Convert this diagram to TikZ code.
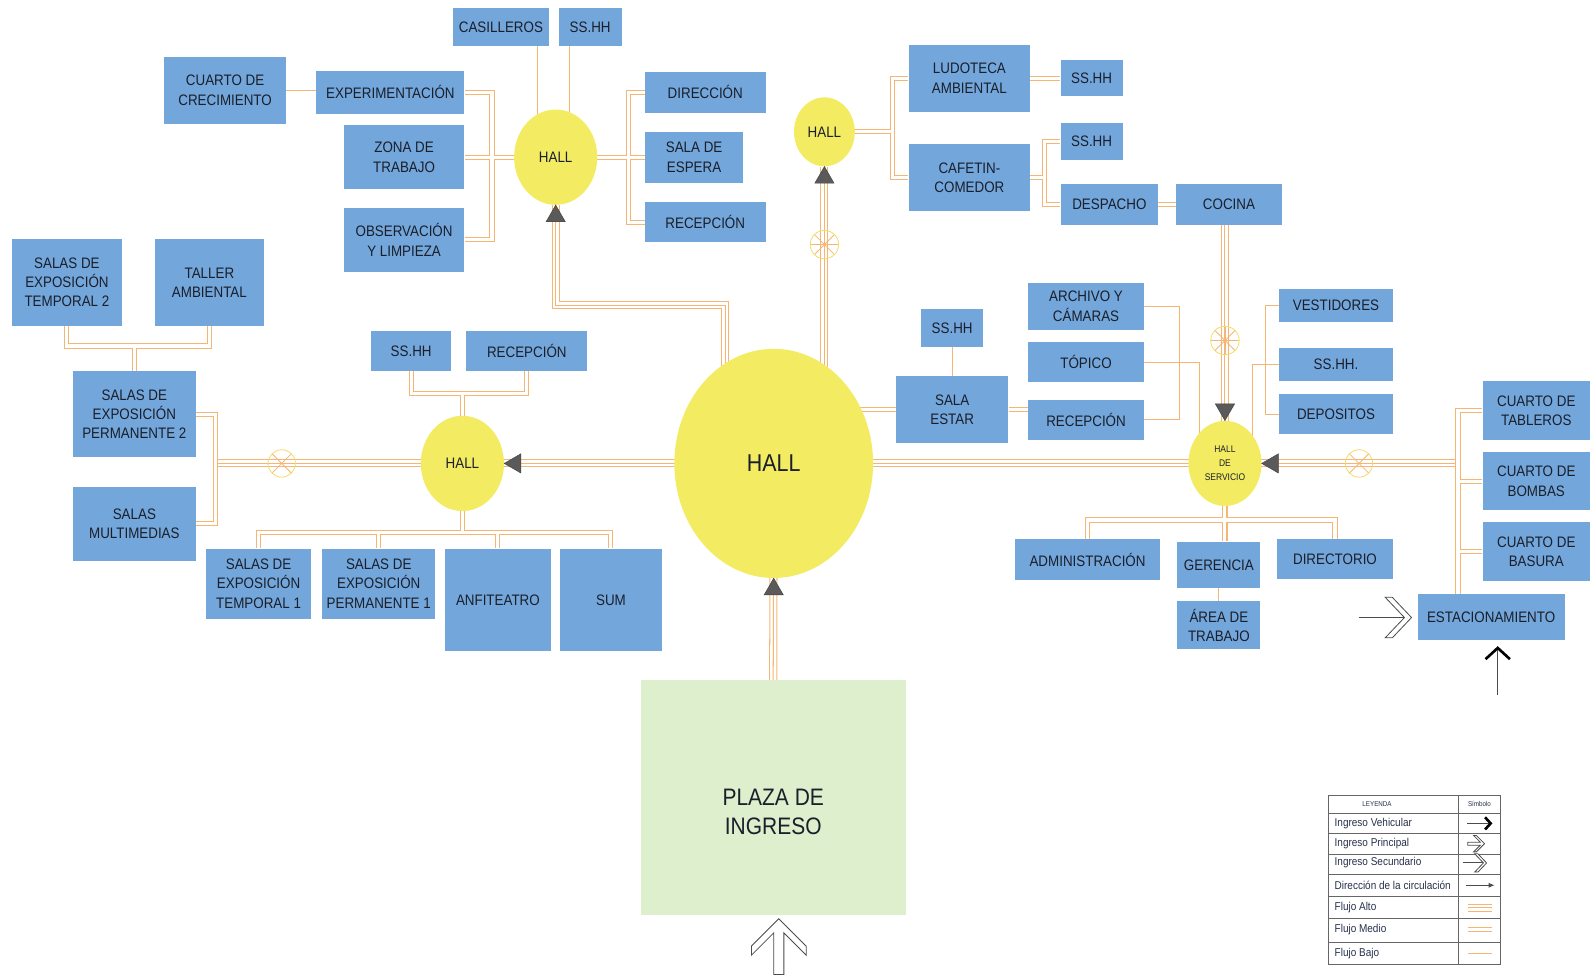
\documentclass[tikz,border=0pt]{standalone}
\usepackage{fontspec}
\setmainfont{Liberation Sans}[FakeStretch=0.88]
\usetikzlibrary{shapes.geometric, backgrounds, calc, arrows.meta}

\definecolor{azul}{HTML}{73A6DA}
\definecolor{amarillo}{HTML}{F3EC62}
\definecolor{amarilloc}{HTML}{F2DC6A}
\definecolor{verde}{HTML}{DDEFCC}
\definecolor{flujo}{HTML}{F7B574}
\definecolor{texto}{HTML}{1A1F2B}
\definecolor{textoley}{HTML}{26304A}
\definecolor{gris}{HTML}{5A5A5A}

\tikzset{
  sala/.style={fill=azul, text=texto, align=center, inner sep=0pt, font=\fontsize{15}{19}\selectfont},
  tam/.style 2 args={minimum width=#1pt, minimum height=#2pt},
  hall/.style={ellipse, fill=amarillo, text=texto, inner sep=0pt, align=center, font=\fontsize{15}{19}\selectfont},
  alto/.style={draw=flujo, line width=8pt, postaction={draw=white, line width=6pt}, postaction={draw=flujo, line width=1pt}},
  medio/.style={draw=flujo, line width=5pt, postaction={draw=white, line width=3pt}},
  bajo/.style={draw=flujo, line width=1pt},
  punta/.style={regular polygon, regular polygon sides=3, fill=gris, draw=gris!70!black, minimum size=22pt, inner sep=0pt},
  rueda/.style={circle, draw=amarilloc, line width=0.8pt, minimum size=28pt, inner sep=0pt,
    path picture={\foreach \ang in {0,45,90,135} \draw[flujo, line width=0.8pt] ($(path picture bounding box.center)+(\ang:14)$) -- ($(path picture bounding box.center)+(\ang:-14)$);}},
  cruz/.style={circle, draw=amarilloc, line width=0.8pt, minimum size=27pt, inner sep=0pt,
    path picture={\foreach \ang in {45,135} \draw[flujo, line width=0.8pt] ($(path picture bounding box.center)+(\ang:14)$) -- ($(path picture bounding box.center)+(\ang:-14)$);}},
  ingreso/.style={draw=black!70, fill=white, line width=0.8pt},
  linea/.style={draw=black!70, line width=0.9pt},
  leyenda/.style={anchor=west, text=textoley, inner sep=0pt, font=\fontsize{11.2}{12}\selectfont},
  leytit/.style={text=textoley, inner sep=0pt, font=\fontsize{7}{8}\selectfont},
  pics/ingresop/.style={code={
    \draw[ingreso] (0,0) -- (-27,-27) -- (-36,-27) -- (-14,-5) -- (-55,-5) -- (-55,5) -- (-14,5) -- (-36,27) -- (-27,27) -- cycle;}},
  pics/ingresos/.style={code={
    \draw[linea] (-52,0) -- (-7,0);
    \draw[ingreso] (0,0) -- (-19,-20) -- (-26,-20) -- (-7,0) -- (-26,20) -- (-19,20) -- cycle;}},
  pics/ingresov/.style={code={
    \draw[linea] (-46,0) -- (-2,0);
    \draw[black, line width=2.6pt] (-11,-12) -- (0,0) -- (-11,12);}}
}

\begin{document}
\begin{tikzpicture}[x=1pt, y=-1pt]
\useasboundingbox (0,0) rectangle (1568,961);

% salas
\node[sala, tam={94}{37}] (casilleros) at (494,26.5) {CASILLEROS};
\node[sala, tam={62}{37}] (sshhA) at (582,26.5) {SS.HH};
\node[sala, tam={120}{66}] (crecimiento) at (222,89) {CUARTO DE\\CRECIMIENTO};
\node[sala, tam={146}{42}] (experimentacion) at (385,91) {EXPERIMENTACIÓN};
\node[sala, tam={119}{63}] (zona) at (398.5,155) {ZONA DE\\TRABAJO};
\node[sala, tam={119}{63}] (observacion) at (398.5,236.5) {OBSERVACIÓN\\Y LIMPIEZA};
\node[sala, tam={119}{40}] (direccion) at (695.5,91) {DIRECCIÓN};
\node[sala, tam={97}{50}] (espera) at (684.5,155) {SALA DE\\ESPERA};
\node[sala, tam={119}{40}] (recepA) at (695.5,219) {RECEPCIÓN};
\node[sala, tam={120}{66}] (ludoteca) at (956,77) {LUDOTECA\\AMBIENTAL};
\node[sala, tam={61}{36}] (sshhB) at (1076.5,77) {SS.HH};
\node[sala, tam={61}{37}] (sshhC) at (1076.5,139.5) {SS.HH};
\node[sala, tam={120}{66}] (cafetin) at (956,175) {CAFETIN-\\COMEDOR};
\node[sala, tam={96}{41}] (despacho) at (1094,201.5) {DESPACHO};
\node[sala, tam={104}{41}] (cocina) at (1212,201.5) {COCINA};
\node[sala, tam={108}{85}] (temporal2) at (66,278.5) {SALAS DE\\EXPOSICIÓN\\TEMPORAL 2};
\node[sala, tam={107}{85}] (taller) at (206.5,278.5) {TALLER\\AMBIENTAL};
\node[sala, tam={79}{40}] (sshhD) at (405.5,346) {SS.HH};
\node[sala, tam={119}{40}] (recepB) at (519.5,346) {RECEPCIÓN};
\node[sala, tam={121}{85}] (permanente2) at (132.5,408.5) {SALAS DE\\EXPOSICIÓN\\PERMANENTE 2};
\node[sala, tam={121}{73}] (multimedias) at (132.5,516.5) {SALAS\\MULTIMEDIAS};
\node[sala, tam={104}{69}] (temporal1) at (255,575.5) {SALAS DE\\EXPOSICIÓN\\TEMPORAL 1};
\node[sala, tam={111}{69}] (permanente1) at (373.5,575.5) {SALAS DE\\EXPOSICIÓN\\PERMANENTE 1};
\node[sala, tam={104}{101}] (anfiteatro) at (491,591.5) {ANFITEATRO};
\node[sala, tam={101}{101}] (sum) at (602.5,591.5) {SUM};
\node[sala, tam={61}{37}] (sshhE) at (939,323.5) {SS.HH};
\node[sala, tam={111}{66}] (salaestar) at (939,404) {SALA\\ESTAR};
\node[sala, tam={114}{46}] (archivo) at (1071,302) {ARCHIVO Y\\CÁMARAS};
\node[sala, tam={114}{40}] (topico) at (1071,357) {TÓPICO};
\node[sala, tam={114}{40}] (recepC) at (1071,414) {RECEPCIÓN};
\node[sala, tam={113}{33}] (vestidores) at (1317.5,301.5) {VESTIDORES};
\node[sala, tam={113}{33}] (sshhF) at (1317.5,359.5) {SS.HH.};
\node[sala, tam={113}{39}] (depositos) at (1317.5,408.5) {DEPOSITOS};
\node[sala, tam={106}{58}] (tableros) at (1515,405) {CUARTO DE\\TABLEROS};
\node[sala, tam={106}{57}] (bombas) at (1515,474.5) {CUARTO DE\\BOMBAS};
\node[sala, tam={106}{58}] (basura) at (1515,544) {CUARTO DE\\BASURA};
\node[sala, tam={145}{45}] (estacionamiento) at (1470.5,608.5) {ESTACIONAMIENTO};
\node[sala, tam={143}{40}] (administracion) at (1072.5,552) {ADMINISTRACIÓN};
\node[sala, tam={82}{46}] (gerencia) at (1202,557) {GERENCIA};
\node[sala, tam={115}{39}] (directorio) at (1316.5,551.5) {DIRECTORIO};
\node[sala, tam={82}{47}] (areatrabajo) at (1202,616.5) {ÁREA DE\\TRABAJO};
\node[fill=verde, tam={261}{231},
  label={[name=plazatexto, yshift=-14pt, text=texto, align=center, font=\fontsize{23.5}{28}\selectfont]center:PLAZA DE\\INGRESO}] (plaza) at (762.5,786.5) {};

% halls
\node[hall, tam={82}{94}] (hallA) at (548,155) {HALL};
\node[hall, tam={60}{68}] (hallB) at (813,130) {HALL};
\node[hall, tam={196}{226}, font=\fontsize{24}{28}\selectfont] (hallC) at (763,457) {HALL};
\node[hall, tam={82}{94}] (hallD) at (456,457) {HALL};
\node[hall, tam={72}{84}, font=\fontsize{9.5}{14}\selectfont] (hallE) at (1208,457) {HALL\\DE\\SERVICIO};

% circulacion
\begin{pgfonlayer}{background}
\draw[bajo] (casilleros.south east) ++(-11,0) -- ++(0,75);
\draw[bajo] (sshhA.south west) ++(11,0) -- ++(0,75);
\draw[bajo] (crecimiento.east) -- (crecimiento.east -| experimentacion.west);
\draw[medio] (experimentacion.east) -- ++(27,0) |- (hallA.center)
  (observacion.east) -- ++(27,0) |- (hallA.center)
  (zona.east) -- (hallA.center);
\draw[medio] (direccion.west) -- ++(-16,0) |- (hallA.center)
  (recepA.west) -- ++(-16,0) |- (hallA.center)
  (espera.west) -- (hallA.center);
\draw[alto] (hallA.south) -- ++(0,99) -| ($(hallC.north)+(-48,40)$);
\draw[alto] (hallB.south) -- ++(0,230);
\draw[medio] (ludoteca.west) -- ++(-16,0) |- (hallB.center)
  (cafetin.west) -- ++(-16,0) |- (hallB.center);
\draw[medio] (ludoteca.east) -- (sshhB.west);
\draw[medio] (cafetin.east) -- ++(14,0) |- (sshhC.west)
  (cafetin.east) ++(14,0) |- (despacho.west);
\draw[medio] (despacho.east) -- (cocina.west);
\draw[alto] (hallE.center) -- (hallE.center |- cocina.south);
\draw[alto] (hallC.center) -- (hallD.center);
\draw[alto] (hallD.center) -- ++(-244,0);
\draw[medio] (permanente2.east) -- ++(19,0) |- (multimedias.east);
\draw[medio] (temporal2.south) -- ++(0,20) -| (permanente2.north)
  (taller.south) -- ++(0,20) -| (permanente2.north);
\draw[medio] (sshhD.south) -- ++(0,22) -| (hallD.center)
  (recepB.south) -- ++(0,22) -| (hallD.center);
\draw[medio] foreach \sala in {temporal1, permanente1, anfiteatro, sum} {(\sala.north) -- ++(0,-16) -| (hallD.center)};
\draw[alto] (hallC.center) -- (hallE.center);
\draw[alto] (hallE.center) -- ++(230,0);
\draw[medio] (tableros.west) -- ++(-24,0) |- (basura.west)
  (bombas.west) -- ++(-24,0)
  (basura.west) ++(-24,0) -- ++(0,42);
\draw[bajo] (archivo.east) -- ++(35,0) |- (recepC.east);
\draw[bajo] (topico.east) -- ++(55,0) -- ++(0,80);
\draw[bajo] (vestidores.west) -- ++(-13,0) |- (depositos.west);
\draw[bajo] (sshhF.west) -- ++(-26,0) -- ++(0,80);
\draw[medio] foreach \sala in {administracion, directorio} {(\sala.north) -- ++(0,-19) -| (hallE.center)}
  (hallE.center) -- (hallE.center |- gerencia.north);
\draw[bajo] (gerencia.south) -- (areatrabajo.north);
\draw[medio] (salaestar.west) -- (salaestar.west -| hallC.center);
\draw[bajo] (sshhE.south) -- (salaestar.north);
\draw[medio] (salaestar.east) -- (salaestar.east -| recepC.west);
\draw[alto] (plaza.north) -- (hallC.center);
\end{pgfonlayer}

% direccion de la circulacion
\node[punta] (pA) at ($(hallA.south)+(0,11)$) {};
\node[punta] (pB) at ($(hallB.south)+(0,11)$) {};
\node[punta] (pC) at ($(hallC.south)+(0,11)$) {};
\node[punta, shape border rotate=90] (pD) at ($(hallD.east)+(11,0)$) {};
\node[punta, shape border rotate=90] (pE) at ($(hallE.east)+(11,0)$) {};
\node[punta, shape border rotate=180] (pF) at ($(hallE.north)+(0,-11)$) {};
\node[rueda] (ruedaB) at ($(hallB.south)+(0,77)$) {};
\node[rueda] (ruedaE) at ($(hallE.north)+(0,-79)$) {};
\node[cruz] (cruzD) at ($(hallD.west)+(-137,0)$) {};
\node[cruz] (cruzE) at ($(hallE.east)+(96,0)$) {};

% ingresos
\pic[rotate=90] at (768,906) {ingresop};
\pic at (1392,609) {ingresos};
\pic[rotate=90] at (1477,639) {ingresov};

% leyenda
\draw[black!60, line width=0.8pt] (1310,784) rectangle (1480,951);
\foreach \yy in {802,822,842,862,884,906,929}
  \draw[black!60, line width=0.6pt] (1310,\yy) -- (1480,\yy);
\draw[black!60, line width=0.6pt] (1438,784) -- (1438,951);
\node[leytit] (leyTit) at (1358,793) {LEYENDA};
\node[leytit] (leySim) at (1459,793) {Símbolo};
\node[leyenda] (leyV) at (1316,812) {Ingreso Vehicular};
\node[leyenda] (leyP) at (1316,832) {Ingreso Principal};
\node[leyenda] (leyS) at (1316,851) {Ingreso Secundario};
\node[leyenda] (leyD) at (1316,873) {Dirección de la circulación};
\node[leyenda] (leyA) at (1316,895) {Flujo Alto};
\node[leyenda] (leyM) at (1316,917) {Flujo Medio};
\node[leyenda] (leyB) at (1316,940) {Flujo Bajo};
\pic[scale=0.5] at (1470,812) {ingresov};
\pic[scale=0.3] at (1464,832) {ingresop};
\pic[scale=0.45] at (1466,851) {ingresos};
\draw[linea, -{Latex[length=6pt, width=5pt]}] (1446,873) -- (1474,873);
\draw[alto] (1448,895) -- (1471,895);
\draw[medio] (1448,917) -- (1471,917);
\draw[bajo] (1448,940) -- (1471,940);
\end{tikzpicture}
\end{document}
